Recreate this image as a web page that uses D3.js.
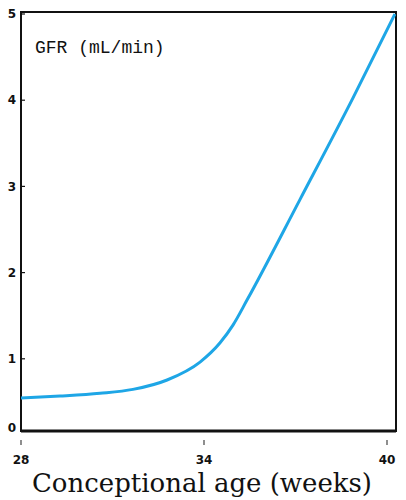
<!DOCTYPE html>
<html><head><meta charset="utf-8">
<script src="https://cdn.jsdelivr.net/npm/d3@7"></script>
<style>body{margin:0;background:#fff}svg{display:block}</style>
</head><body>
<script>
const weeks = [28, 29.28, 30.59, 31.67, 32.79, 33.87, 34.52, 34.95, 35.41, 37.15, 38.89, 40.26];
const gfr   = [0.545, 0.568, 0.600, 0.645, 0.754, 0.962, 1.183, 1.391, 1.681, 2.85, 4.03, 5.0];
const xTicks = [28, 34, 40];
const yTicks = [0, 1, 2, 3, 4, 5];
const xTitle = "Conceptional age (weeks)";
const yTitle = "GFR (mL/min)";

(function () {
const W = 406, H = 500;
const pL = 21, pR = 396, pT = 12, pB = 431;
const svg = d3.select("body").append("svg").attr("width", W).attr("height", H);

const x = d3.scaleLinear().domain([28, 40]).range([21, 387]);
const y = d3.scaleLinear().domain([0, 5]).range([445, 14]);

// frame
svg.append("rect").attr("x", pL).attr("y", pT).attr("width", pR-pL).attr("height", pB-pT)
  .attr("fill", "none").attr("stroke", "#111").attr("stroke-width", 2);
svg.append("line").attr("x1", pL).attr("x2", pR).attr("y1", pB).attr("y2", pB)
  .attr("stroke", "#111").attr("stroke-width", 3);

// y ticks
yTicks.forEach(v => {
  const py = Math.min(y(v), pB);
  if (v > 0) svg.append("line").attr("x1", pL).attr("x2", pL+4).attr("y1", py).attr("y2", py)
    .attr("stroke", "#111").attr("stroke-width", 1.2);
  svg.append("text").attr("x", 12).attr("y", Math.min(py, pB-3)).attr("dy", "0.35em")
    .attr("text-anchor", "middle").attr("font-family", "DejaVu Sans").attr("font-weight", "bold")
    .attr("font-size", 12).attr("fill", "#111").text(v);
});

// x ticks
xTicks.forEach(v => {
  svg.append("line").attr("x1", x(v)).attr("x2", x(v)).attr("y1", 440).attr("y2", 445)
    .attr("stroke", "#444").attr("stroke-width", 1.2);
  svg.append("text").attr("x", x(v)).attr("y", 464).attr("text-anchor", "middle")
    .attr("font-family", "DejaVu Sans").attr("font-weight", "bold").attr("font-size", 12)
    .attr("fill", "#111").text(v);
});

// curve
const pts = weeks.map((w, i) => [w, gfr[i]]);
svg.append("path").datum(pts)
  .attr("d", d3.line().x(d => x(d[0])).y(d => y(d[1])).curve(d3.curveMonotoneX))
  .attr("fill", "none").attr("stroke", "#1ea6e6").attr("stroke-width", 3);

// titles
svg.append("text").attr("x", 35).attr("y", 53).attr("font-family", "Liberation Mono")
  .attr("font-size", 18).attr("fill", "#111").text(yTitle);
svg.append("text").attr("x", 32).attr("y", 492)
  .attr("font-family", "DejaVu Serif").attr("font-size", 26)
  .attr("textLength", 340).attr("lengthAdjust", "spacingAndGlyphs")
  .attr("fill", "#111").text(xTitle);
})();
</script>
</body></html>
